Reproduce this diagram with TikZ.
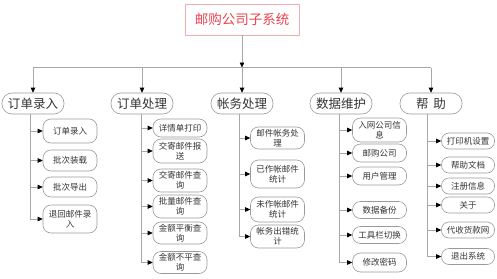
\documentclass[tikz,border=0pt]{standalone}
\usepackage{fontspec}
\setmainfont{Noto Sans CJK SC}
\usetikzlibrary{arrows.meta}
\definecolor{linegray}{HTML}{A8A8A8}
\definecolor{boxgray}{HTML}{9A9A9A}
\definecolor{titlered}{HTML}{E8434F}
\definecolor{titlepink}{HTML}{F2AEB5}
\definecolor{txt}{HTML}{333333}
\begin{document}
\begin{tikzpicture}[x=1pt,y=-1pt,
  titlebox/.style={draw=titlepink, line width=0.8pt, text=titlered, font=\fontsize{13.5}{16}\selectfont, minimum width=114pt, minimum height=31pt, inner sep=0pt},
  topbox/.style={draw=boxgray, line width=0.6pt, rounded corners=10pt, text=txt, font=\fontsize{12.5}{15}\selectfont, minimum width=62pt, minimum height=21pt, inner sep=0pt},
  subbox/.style={draw=boxgray, line width=0.6pt, rounded corners=8pt, text=txt, font=\fontsize{8.5}{10}\selectfont, align=center, minimum width=54pt, minimum height=#1, inner sep=1pt},
  subbox/.default=21pt,
  smallbox/.style={subbox=16pt, rounded corners=7.5pt, minimum width=53pt},
  link/.style={draw=linegray, line width=0.6pt},
  arr/.style={link, -{Triangle[length=5pt,width=4.5pt,color=black,fill=black]}}
]
\useasboundingbox (0,0) rectangle (497,278);

\node[titlebox] (root) at (242,19.5) {邮购公司子系统};

\node[topbox] (a) at (33,103.5) {订单录入};
\node[topbox] (b) at (142,103.5) {订单处理};
\node[topbox] (c) at (242,103.5) {帐务处理};
\node[topbox] (d) at (341,103.5) {数据维护};
\node[topbox] (e) at (431,103.5) {帮\hspace{0.4em}助};

\coordinate (busy) at (0,67.5);
\draw[arr] (root.south) -- (root.south |- busy);
\draw[link] (a.north |- busy) -- (e.north |- busy);
\foreach \n in {a,b,c,d,e} \draw[arr] (\n.north |- busy) -- (\n.north);

% column 1
\node[subbox=24pt] (a1) at (70,131) {订单录入};
\node[subbox] (a2) at (70,160.5) {批次装载};
\node[subbox=20pt] (a3) at (70,187) {批次导出};
\node[subbox=28pt] (a4) at (70,219) {退回邮件录\\入};
% column 2
\node[subbox=18pt] (b1) at (180,128) {详情单打印};
\node[subbox=24pt] (b2) at (180,151) {交寄邮件报\\送};
\node[subbox=23pt] (b3) at (180,180.5) {交寄邮件查\\询};
\node[subbox=23pt] (b4) at (180,206.5) {批量邮件查\\询};
\node[subbox=22pt] (b5) at (180,233) {金额平衡查\\询};
\node[subbox=22pt] (b6) at (180,262.5) {金额不平查\\询};
% column 3
\node[subbox=22pt] (c1) at (277.5,138) {邮件帐务处\\理};
\node[subbox=28pt] (c2) at (277.5,174) {已作帐邮件\\统计};
\node[subbox=25pt] (c3) at (277.5,209.5) {未作帐邮件\\统计};
\node[subbox=23pt] (c4) at (277.5,236.5) {帐务出错统\\计};
% column 4
\node[subbox=24pt] (d1) at (379.5,130) {入网公司信\\息};
\node[subbox=18pt] (d2) at (379.5,153) {邮购公司};
\node[subbox=18pt] (d3) at (379.5,176) {用户管理};
\node[subbox=17pt] (d4) at (379.5,210) {数据备份};
\node[subbox=17pt] (d5) at (379.5,235) {工具栏切换};
\node[subbox=19pt] (d6) at (379.5,262.5) {修改密码};
% column 5
\node[smallbox] (e1) at (468,141) {打印机设置};
\node[smallbox] (e2) at (468,165) {帮助文档};
\node[smallbox] (e3) at (468,186) {注册信息};
\node[smallbox] (e4) at (468,205) {关于};
\node[smallbox] (e5) at (468,230) {代收货款网};
\node[smallbox] (e6) at (468,256.5) {退出系统};

% trunks
\coordinate (ta) at ([xshift=-3pt]a.south);
\coordinate (tb) at ([xshift=-1pt]b.south);
\coordinate (tc) at ([xshift=-3pt]c.south);
\coordinate (td) at ([xshift=-2pt]d.south);
\coordinate (te) at ([xshift=-4pt]e.south);

\draw[link] (ta) -- (ta |- a4.west);
\draw[link] (tb) -- (tb |- b6.west);
\draw[link] (tc) -- (tc |- c4.west);
\draw[link] (td) -- (td |- d6.west);
\draw[link] (te) -- (te |- e6.west);

\foreach \n in {1,...,4} \draw[arr] (ta |- a\n.west) -- (a\n.west);
\foreach \n in {1,...,6} \draw[arr] (tb |- b\n.west) -- (b\n.west);
\foreach \n in {1,...,4} \draw[arr] (tc |- c\n.west) -- (c\n.west);
\foreach \n in {1,...,6} \draw[arr] (td |- d\n.west) -- (d\n.west);
\foreach \n in {1,...,6} \draw[arr] (te |- e\n.west) -- (e\n.west);
\end{tikzpicture}
\end{document}
